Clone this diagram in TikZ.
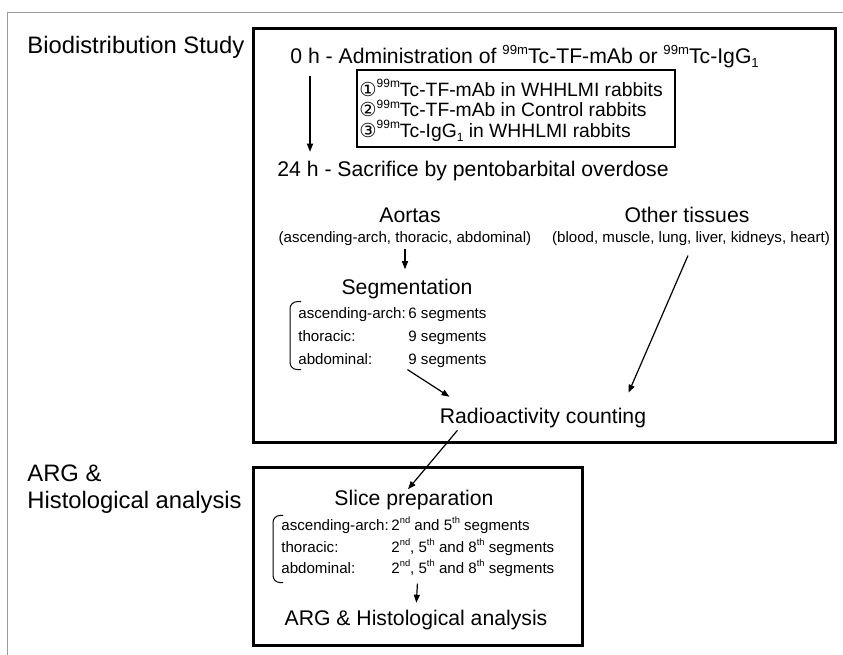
\documentclass[tikz,border=0pt]{standalone}
\usepackage{fontspec}
\setmainfont{Liberation Sans}
\newfontfamily\circfont{DejaVu Sans}[Scale=1.0]
\usetikzlibrary{arrows.meta, positioning, calc}
\newcommand{\collab}[1]{\makebox[55pt][l]{#1}}
\newcommand{\hi}[1]{\raisebox{0.42em}{\scalebox{0.62}{#1}}}
\newcommand{\lo}[1]{\raisebox{-0.22em}{\scalebox{0.62}{#1}}}

\begin{document}
\begin{tikzpicture}[
    x=0.5pt, y=-0.5pt,
    >={Triangle[length=4pt, width=3pt]},
    side/.style={font=\fontsize{11.9}{14}\selectfont, inner sep=0, anchor=base west},
    stage/.style={font=\fontsize{10.6}{13}\selectfont, inner sep=0, anchor=base},
    detail/.style={font=\fontsize{7.55}{9}\selectfont, inner sep=0, anchor=base},
    dose/.style={font=\fontsize{9.65}{11}\selectfont, inner sep=0, anchor=base west},
    frame/.style={draw, line width=1.5pt},
    thinframe/.style={draw, line width=0.65pt},
    brk/.style={draw, line width=0.5pt, rounded corners=3.5pt},
    arr/.style={->, line width=0.6pt}
  ]
  \useasboundingbox (0,0) rectangle (843,655);
  \draw[gray!80, line width=0.5pt] (7,655) -- (7,12) -- (843,12);
  \draw[frame] (253,28) rectangle (835,442);
  \draw[frame] (253,467) rectangle (582,645);
  \draw[thinframe] (357,70) rectangle (675,147);

  \node[side] (bio) at (27,53) {Biodistribution Study};
  \node[side] (argl) at (27,481) {ARG \&};
  \node[side] (histl) at (27,508) {Histological analysis};

  \node[stage, anchor=base west] (t0) at (290,63)
    {0 h - Administration of \hi{99m}Tc-TF-mAb or \hi{99m}Tc-IgG\lo{1}};
  \node[dose] (dose1) at (359,96) {{\circfont ①}\hi{99m}Tc-TF-mAb in WHHLMI rabbits};
  \node[dose] (dose2) at (359,116.5) {{\circfont ②}\hi{99m}Tc-TF-mAb in Control rabbits};
  \node[dose] (dose3) at (359,137) {{\circfont ③}\hi{99m}Tc-IgG\lo{1} in WHHLMI rabbits};
  \node[stage, anchor=base west] (t24) at (277,176) {24 h - Sacrifice by pentobarbital overdose};
  \coordinate (arrx) at (310,0);

  \node[stage] (aort) at (410,222) {Aortas};
  \node[detail] (aortsub) at (405,242) {(ascending-arch, thoracic, abdominal)};
  \node[stage] (oth) at (687,222) {Other tissues};
  \node[detail] (othsub) at (691,242) {(blood, muscle, lung, liver, kidneys, heart)};

  \node[stage] (seg) at (407,294) {Segmentation};
  \node[detail, anchor=base west] (segA) at (298,318) {\collab{ascending-arch:}6 segments};
  \node[detail, anchor=base west] (segB) at (298,341) {\collab{thoracic:}9 segments};
  \node[detail, anchor=base west] (segC) at (298,364) {\collab{abdominal:}9 segments};

  \node[stage] (radio) at (543,423) {Radioactivity counting};

  \node[stage] (slice) at (414,505) {Slice preparation};
  \node[detail, anchor=base west] (sliceA) at (281,530)
    {\collab{ascending-arch:}2\hi{nd} and 5\hi{th} segments};
  \node[detail, anchor=base west] (sliceB) at (281,552)
    {\collab{thoracic:}2\hi{nd}, 5\hi{th} and 8\hi{th} segments};
  \node[detail, anchor=base west] (sliceC) at (281,573)
    {\collab{abdominal:}2\hi{nd}, 5\hi{th} and 8\hi{th} segments};
  \node[stage] (argres) at (416,625) {ARG \& Histological analysis};

  \draw[brk] ($(segA.north west)+(3,-5)$) -- ++(-11,0) |- ($(segC.south west)+(3,2)$);
  \draw[brk] ($(sliceA.north west)+(2,-1)$) -- ++(-10,0) |- ($(sliceC.south west)+(2,6)$);

  \draw[arr, shorten >=4.25pt] ($(t0.south -| arrx)+(0,8)$) -- (t24.north -| arrx);
  \draw[arr, shorten <=1.5pt, shorten >=4.5pt] (aortsub.south) -- (aortsub.south |- seg.north);
  \draw[arr] ([xshift=7.5pt, yshift=-1pt]segC.south) -- ([xshift=5pt, yshift=5.25pt]radio.north west);
  \draw[arr] ([xshift=-1.5pt, yshift=-5pt]othsub.south) -- ([xshift=-9pt, yshift=7.25pt]radio.north east);
  \draw[arr] ([xshift=9pt, yshift=-1.25pt]radio.south west) -- ([xshift=-3pt]slice.north);
  \draw[arr, shorten <=3.5pt, shorten >=3.25pt] (sliceC.south) -- (argres.north);
\end{tikzpicture}
\end{document}
